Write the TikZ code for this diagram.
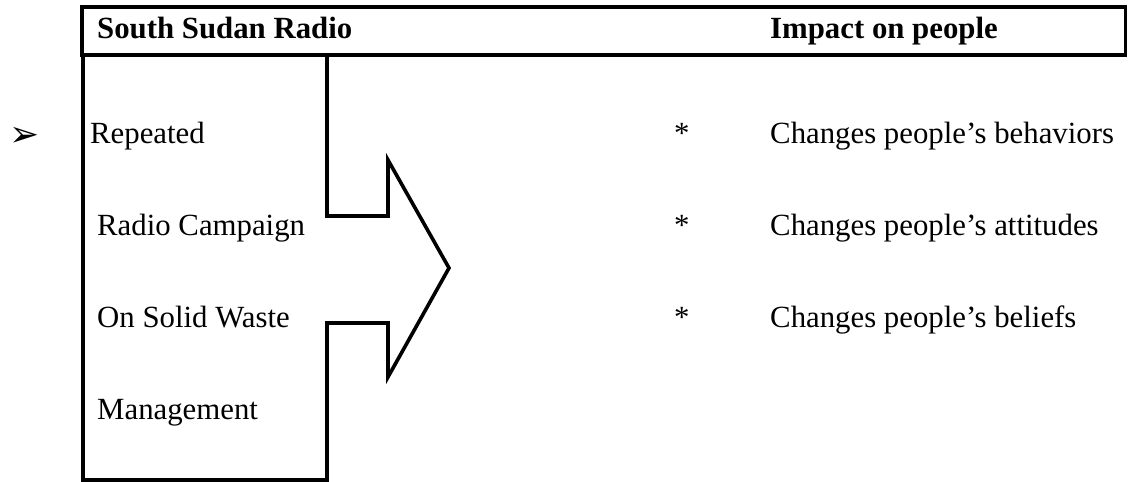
\documentclass[tikz,border=0pt]{standalone}
\usepackage{fontspec}
\setmainfont{Liberation Serif}
\newfontfamily\dejavu{DejaVu Sans}
\begin{document}
\begin{tikzpicture}[x=1pt,y=-1pt,
  txt/.style={anchor=base west,inner sep=0pt,font=\fontsize{30.8}{36}\selectfont},
  hdr/.style={txt,font=\fontsize{30.8}{36}\selectfont\bfseries},
  frame/.style={draw=black,line width=3.6pt,line join=miter}]
\useasboundingbox (0,0) rectangle (1133,482);
% header box
\draw[frame] (82,7) rectangle (1125.5,55);
\node[hdr] (h1) at (97,38.5) {South Sudan Radio};
\node[hdr] (h2) at (770,38.5) {Impact on people};
% notched arrow
\draw[frame] (83,55) -- (327,55) -- (327,216) -- (388,216) -- (388,160)
  -- (449,268) -- (388,377) -- (388,323) -- (327,323) -- (327,480)
  -- (83,480) -- cycle;
% bullet
\node[anchor=base west,inner sep=0pt,font=\dejavu\fontsize{36}{42}\selectfont] (b) at (9,146) {➢};
% left texts
\node[txt] (l1) at (90,143) {Repeated};
\node[txt] (l2) at (97,235) {Radio Campaign};
\node[txt] (l3) at (97,327) {On Solid Waste};
\node[txt] (l4) at (97,419) {Management};
% right texts
\node[txt] (s1) at (674,143) {*};
\node[txt] (s2) at (674,235.5) {*};
\node[txt] (s3) at (674,327.5) {*};
\node[txt] (r1) at (770,143.5) {Changes people’s behaviors};
\node[txt] (r2) at (770,235.5) {Changes people’s attitudes};
\node[txt] (r3) at (770,327.5) {Changes people’s beliefs};
\end{tikzpicture}
\end{document}
